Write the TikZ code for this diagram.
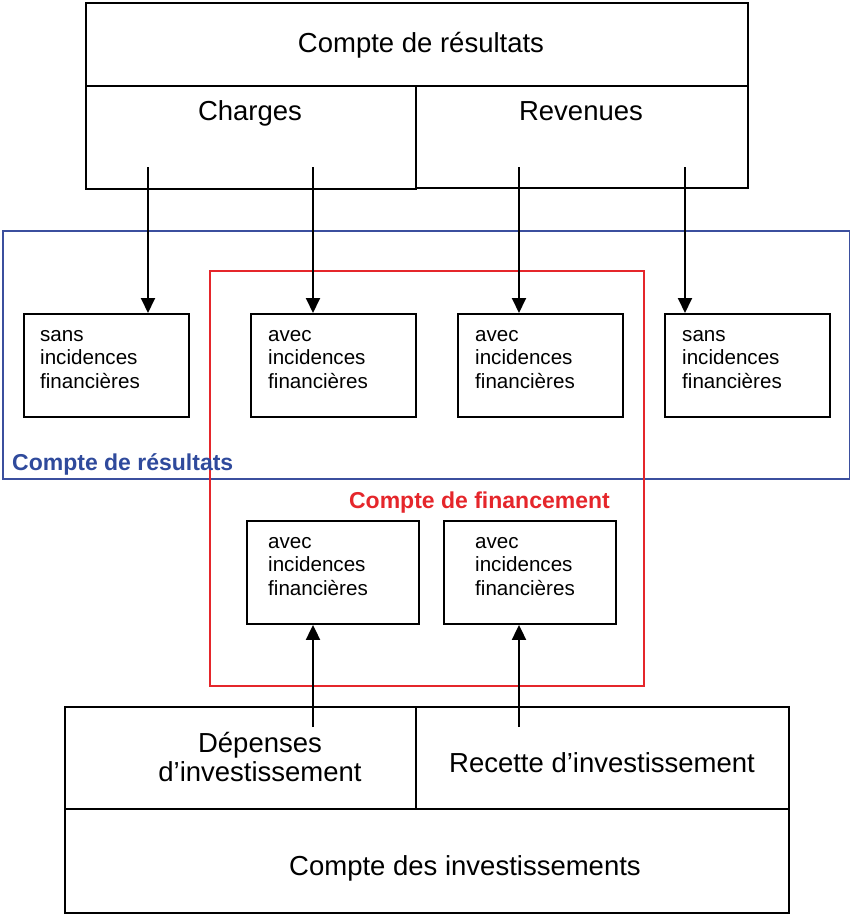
\documentclass[tikz,border=0pt]{standalone}
\usepackage{fontspec}
\setmainfont{Liberation Sans}
\usetikzlibrary{arrows.meta}
\definecolor{frameblue}{HTML}{3B4F9E}
\definecolor{labelblue}{HTML}{2F4A9C}
\definecolor{framered}{HTML}{E5262B}
\begin{document}
\begin{tikzpicture}[x=1pt,y=-1pt,
  box/.style={draw, line width=1.9pt, inner sep=0pt, anchor=north west},
  frame/.style={line width=1.8pt, inner sep=0pt, anchor=north west},
  big/.style={font=\fontsize{27.5}{31}\selectfont, inner sep=0pt, anchor=base},
  small/.style={font=\fontsize{20.6}{23.5}\selectfont, align=left, anchor=base west, inner sep=0pt},
  tag/.style={font=\fontsize{23}{27}\selectfont\bfseries, inner sep=0pt},
  arr/.style={line width=1.9pt, -{Triangle[length=15pt,width=14pt]}}
]
\useasboundingbox (0,0) rectangle (850,914);

% frames
\node[frame, draw=frameblue, minimum width=847pt, minimum height=248pt] (bf) at (2,230) {};
\node[frame, draw=framered, minimum width=434pt, minimum height=415pt] (rf) at (209,270) {};
\node[tag, text=labelblue, anchor=base west] (bl) at (12,470) {Compte de résultats};
\node[tag, text=framered, anchor=base east] (rl) at (610,508) {Compte de financement};

% top block
\node[box, minimum width=662pt, minimum height=83pt] (cr) at (85,2) {};
\node[box, minimum width=330pt, minimum height=103pt] (ch) at (85,85) {};
\node[box, minimum width=332pt, minimum height=102pt] (rv) at (415,85) {};
\node[big] (tcr) at (421,52) {Compte de résultats};
\node[big] (tch) at (250,120) {Charges};
\node[big] (trv) at (581,120) {Revenues};

% row 1 boxes
\node[box, minimum width=165pt, minimum height=103pt] (s1) at (23,313) {};
\node[box, minimum width=165pt, minimum height=103pt] (s2) at (250,313) {};
\node[box, minimum width=165pt, minimum height=103pt] (s3) at (457,313) {};
\node[box, minimum width=165pt, minimum height=103pt] (s4) at (664,313) {};
\node[small] (t1) at (40,388) {sans\\incidences\\financières};
\node[small] (t2) at (268,388) {avec\\incidences\\financières};
\node[small] (t3) at (475,388) {avec\\incidences\\financières};
\node[small] (t4) at (682,388) {sans\\incidences\\financières};

% row 2 boxes
\node[box, minimum width=172pt, minimum height=103pt] (f1) at (246,520) {};
\node[box, minimum width=172pt, minimum height=103pt] (f2) at (443,520) {};
\node[small] (t5) at (268,595) {avec\\incidences\\financières};
\node[small] (t6) at (475,595) {avec\\incidences\\financières};

% bottom block
\node[box, minimum width=351pt, minimum height=102pt] (dep) at (64,706) {};
\node[box, minimum width=373pt, minimum height=102pt] (rec) at (415,706) {};
\node[box, minimum width=724pt, minimum height=104pt] (ci) at (64,808) {};
\node[big] (tdep1) at (260,752) {Dépenses};
\node[big] (tdep2) at (260,781) {d’investissement};
\node[big] (trec) at (602,772) {Recette d’investissement};
\node[big] (tci) at (465,875) {Compte des investissements};

% arrows
\coordinate (a1) at (148,167);
\coordinate (a2) at (313,167);
\coordinate (a3) at (519,167);
\coordinate (a4) at (685,167);
\coordinate (b1) at (313,727);
\coordinate (b2) at (519,727);
\draw[arr] (a1) -- (s1.north -| a1);
\draw[arr] (a2) -- (s2.north -| a2);
\draw[arr] (a3) -- (s3.north -| a3);
\draw[arr] (a4) -- (s4.north -| a4);
\draw[arr] (b1) -- (f1.south -| b1);
\draw[arr] (b2) -- (f2.south -| b2);
\end{tikzpicture}
\end{document}
